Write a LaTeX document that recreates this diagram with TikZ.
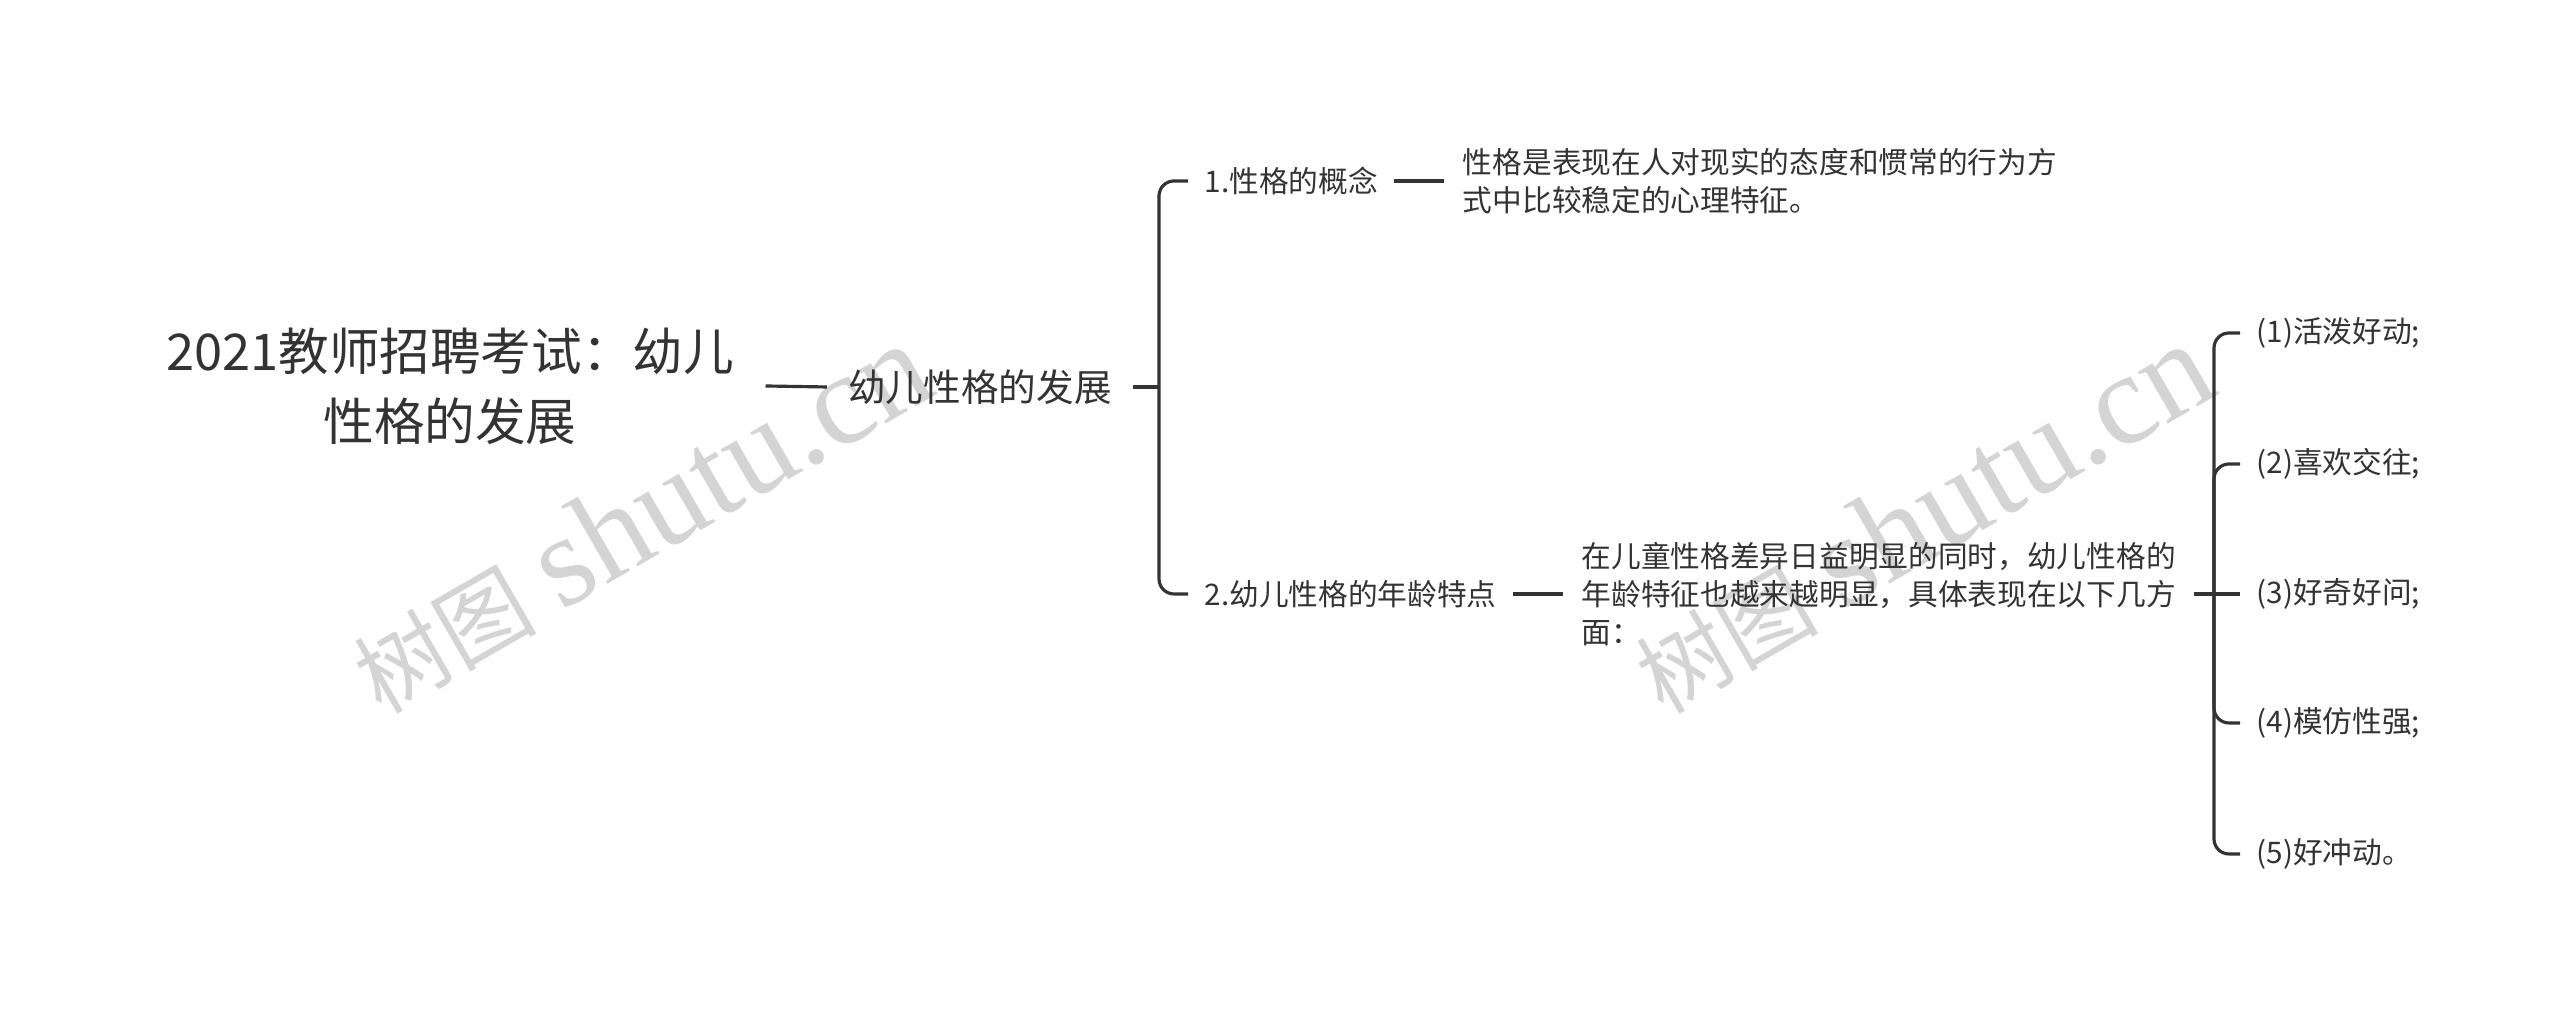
\documentclass[tikz,border=0pt]{standalone}
\usepackage{fontspec}
\setmainfont{Noto Sans CJK SC}
\newfontfamily\wmfont{Liberation Serif}
\usetikzlibrary{positioning}
\definecolor{xian}{RGB}{51,51,51}
\definecolor{shuiyin}{RGB}{212,212,212}
\begin{document}
\begin{tikzpicture}[line width=0.9pt, draw=xian, text=xian,
    zhuti/.style={font=\fontsize{14.4}{19.9}\selectfont, align=center, inner xsep=0.3cm, inner ysep=0pt},
    fenzhi/.style={font=\fontsize{10.7}{13}\selectfont, inner xsep=0.2cm},
    jiedian/.style={font=\fontsize{8.45}{10.8}\selectfont, inner xsep=0.15cm, anchor=west},
    shuoming/.style={jiedian, align=left, inner xsep=0.17cm},
    shuiyinzi/.style={rotate=30, text=shuiyin, inner sep=0pt},
    zhexian/.style={rounded corners=0.15cm}]
    % 画布范围
    \useasboundingbox (0,0) rectangle (25.6,10.17);

    % 水印
    \node[shuiyinzi] (sy1) at (6.40,4.99) {{\fontsize{26}{26}\selectfont 树图}\hspace{0.25cm}{\wmfont\fontsize{37}{37}\selectfont shutu.cn}};
    \node[shuiyinzi] (sy2) at (19.22,4.99) {{\fontsize{26}{26}\selectfont 树图}\hspace{0.25cm}{\wmfont\fontsize{37}{37}\selectfont shutu.cn}};

    % 中心主题
    \node[zhuti] (root) at (4.50,6.31) {2021教师招聘考试：幼儿\\性格的发展};
    \node[fenzhi] (main) at (9.80,6.30) {幼儿性格的发展};
    \draw (root.east) -- (main.west);

    % 二级分支
    \node[jiedian] (gainian) at (11.88,8.36) {1.性格的概念};
    \node[jiedian] (nianling) at (11.88,4.23) {2.幼儿性格的年龄特点};
    \coordinate (cha1) at (11.59,6.30);
    \draw (main.east) -- (cha1);
    \draw[zhexian] (gainian.west) -| (cha1) |- (nianling.west);

    % 说明文字
    \node[shuoming, right=0.5cm of gainian] (gnsm) {性格是表现在人对现实的态度和惯常的行为方\\式中比较稳定的心理特征。};
    \node[shuoming, right=0.5cm of nianling] (nlsm) {在儿童性格差异日益明显的同时，幼儿性格的\\年龄特征也越来越明显，具体表现在以下几方\\面：};
    \draw (gainian.east) -- (gnsm.west);
    \draw (nianling.east) -- (nlsm.west);

    % 具体表现
    \node[jiedian] (t1) at (22.40,6.84) {(1)活泼好动;};
    \node[jiedian] (t2) at (22.40,5.53) {(2)喜欢交往;};
    \node[jiedian] (t3) at (22.40,4.23) {(3)好奇好问;};
    \node[jiedian] (t4) at (22.40,2.94) {(4)模仿性强;};
    \node[jiedian] (t5) at (22.40,1.63) {(5)好冲动。};
    \coordinate (cha2) at (22.14,4.23);
    \draw (nlsm.east) -- (t3.west);
    \draw[zhexian] (t1.west) -| (cha2) |- (t5.west);
    \draw[zhexian] (t2.west) -| (cha2);
    \draw[zhexian] (t4.west) -| (cha2);
\end{tikzpicture}
\end{document}
